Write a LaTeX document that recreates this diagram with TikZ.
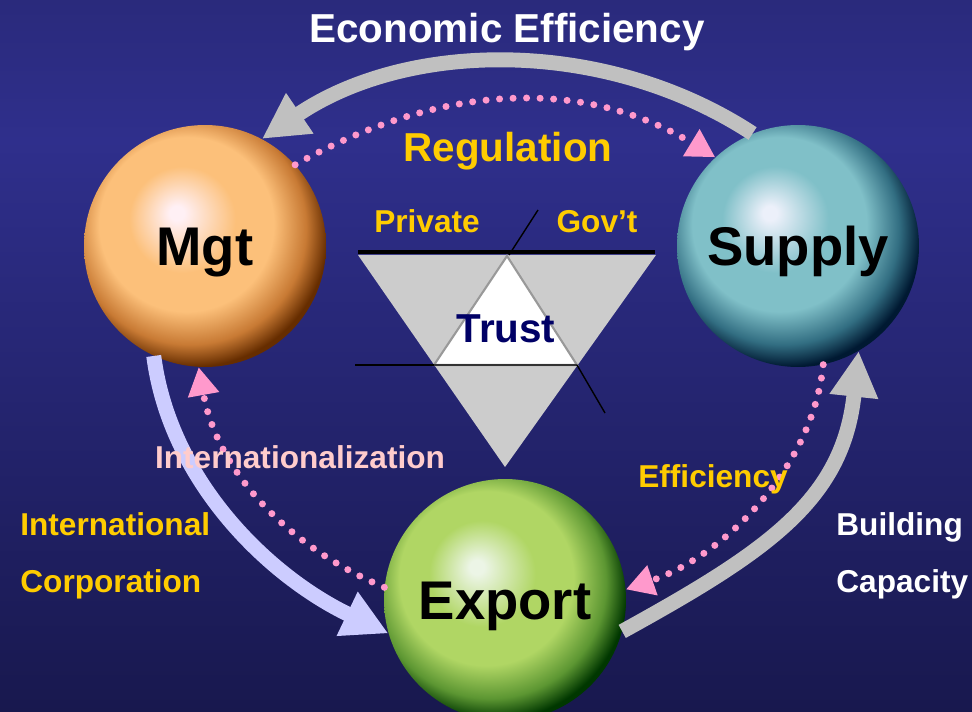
\documentclass[tikz,border=0pt]{standalone}
\usepackage{fontspec}
\setmainfont{Liberation Sans}
\usetikzlibrary{arrows.meta}
\definecolor{bgtop}{RGB}{42,42,124}
\definecolor{bgmid}{RGB}{47,47,140}
\definecolor{bgbot}{RGB}{24,24,78}
\definecolor{arcgray}{RGB}{192,192,192}
\definecolor{lavender}{RGB}{204,204,255}
\definecolor{dotpink}{RGB}{255,153,204}
\definecolor{gold}{RGB}{255,204,0}
\definecolor{rosy}{RGB}{255,204,204}
\definecolor{trustblue}{RGB}{0,0,102}
\definecolor{trigray}{RGB}{204,204,204}
\definecolor{mgthl}{RGB}{255,240,245}
\definecolor{mgtmain}{RGB}{252,192,122}
\definecolor{mgtmid}{RGB}{200,122,52}
\definecolor{mgtdark}{RGB}{102,45,0}
\definecolor{suphl}{RGB}{236,240,250}
\definecolor{supmain}{RGB}{128,192,200}
\definecolor{supmid}{RGB}{50,110,130}
\definecolor{supdark}{RGB}{0,25,50}
\definecolor{exphl}{RGB}{236,245,230}
\definecolor{expmain}{RGB}{176,214,100}
\definecolor{expmid}{RGB}{92,150,50}
\definecolor{expdark}{RGB}{0,55,0}
\pgfdeclareradialshading{mgtball}{\pgfpoint{-6bp}{7bp}}{color(0bp)=(mgthl); color(1.5bp)=(mgthl); color(11bp)=(mgtmain); color(18bp)=(mgtmain); color(24bp)=(mgtmid); color(28bp)=(mgtdark); color(50bp)=(mgtdark)}
\pgfdeclareradialshading{supball}{\pgfpoint{-6bp}{7bp}}{color(0bp)=(suphl); color(1.5bp)=(suphl); color(11bp)=(supmain); color(18bp)=(supmain); color(24bp)=(supmid); color(28bp)=(supdark); color(50bp)=(supdark)}
\pgfdeclareradialshading{expball}{\pgfpoint{-6bp}{7bp}}{color(0bp)=(exphl); color(1.5bp)=(exphl); color(11bp)=(expmain); color(18bp)=(expmain); color(24bp)=(expmid); color(28bp)=(expdark); color(50bp)=(expdark)}

\begin{document}
\begin{tikzpicture}[x=0.02cm,y=-0.02cm,
  sphere/.style={circle,shade,minimum size=4.84cm,inner sep=0pt,font=\bfseries\fontsize{31}{31}\selectfont,text height=22pt,text depth=0pt},
  bigarrow/.style={line width=8.5pt,-{Triangle[length=26pt,width=26pt]}},
  dotlink/.style={dotpink,line width=4pt,line cap=round,dash pattern=on 0pt off 7.7pt,-{Triangle[length=16pt,width=17pt]}},
  headtext/.style={anchor=base,inner sep=0pt,font=\bfseries\fontsize{23}{23}\selectfont},
  smalltext/.style={anchor=base,inner sep=0pt,font=\bfseries\fontsize{18}{18}\selectfont}]
% background
\useasboundingbox (0,0) rectangle (972,712);
\shade[top color=bgtop,bottom color=bgmid] (0,0) rectangle (972,141);
\shade[top color=bgmid,bottom color=bgbot] (0,140) rectangle (972,712);
% trust triangle
\fill[trigray] (358,255) -- (656,255) -- (505,467) -- cycle;
\filldraw[fill=white,draw=gray!80,line width=1.2pt] (507,256) -- (577,365) -- (434,365) -- cycle;
\draw[black!80,line width=0.8pt] (434,365) -- (577,365);
\draw[line width=2.8pt] (358,252) -- (655,252);
\draw[line width=0.8pt] (355,365) -- (434,365);
\draw[line width=0.8pt] (538,210) -- (509,255);
\draw[line width=0.8pt] (577,365) -- (605,413);
% spheres
\node[sphere,shading=mgtball] (mgt) at (205,246) {Mgt};
\node[sphere,shading=supball] (supply) at (798,246) {Supply};
\node[sphere,shading=expball] (export) at (505,600) {Export};
% loops
\draw[bigarrow,arcgray] (supply.112) .. controls (605,37) and (408,40) .. (mgt.62);
\draw[bigarrow,lavender] (mgt.245) .. controls (170,482) and (270,577) .. (export.196);
\draw[bigarrow,arcgray] (export.345) .. controls (770,550) and (843,499) .. (supply.300);
\draw[dotlink] (mgt.42) .. controls (439,84) and (582,76) .. (supply.133);
\draw[dotlink] (export.174) .. controls (286,546) and (217,470) .. (mgt.267);
\draw[dotlink] (supply.282) .. controls (813,466) and (726,555) .. (export.5);
% labels
\node[headtext,white] (econ) at (507,43) {Economic Efficiency};
\node[headtext,gold] (reg) at (508,162) {Regulation};
\node[smalltext,gold] (priv) at (427,233) {Private};
\node[smalltext,gold] (gov) at (597,233) {Gov’t};
\node[headtext,trustblue] (trust) at (506,342) {Trust};
\node[smalltext,rosy] (intl) at (300,468) {Internationalization};
\node[smalltext,gold] (eff) at (713,487) {Efficiency};
\node[smalltext,gold,anchor=base west] (intcorp) at (20,535) {International};
\node[smalltext,gold,anchor=base west] (corp) at (20,592) {Corporation};
\node[smalltext,white,anchor=base west] (build) at (836,535) {Building};
\node[smalltext,white,anchor=base west] (cap) at (836,592) {Capacity};
\end{tikzpicture}
\end{document}
